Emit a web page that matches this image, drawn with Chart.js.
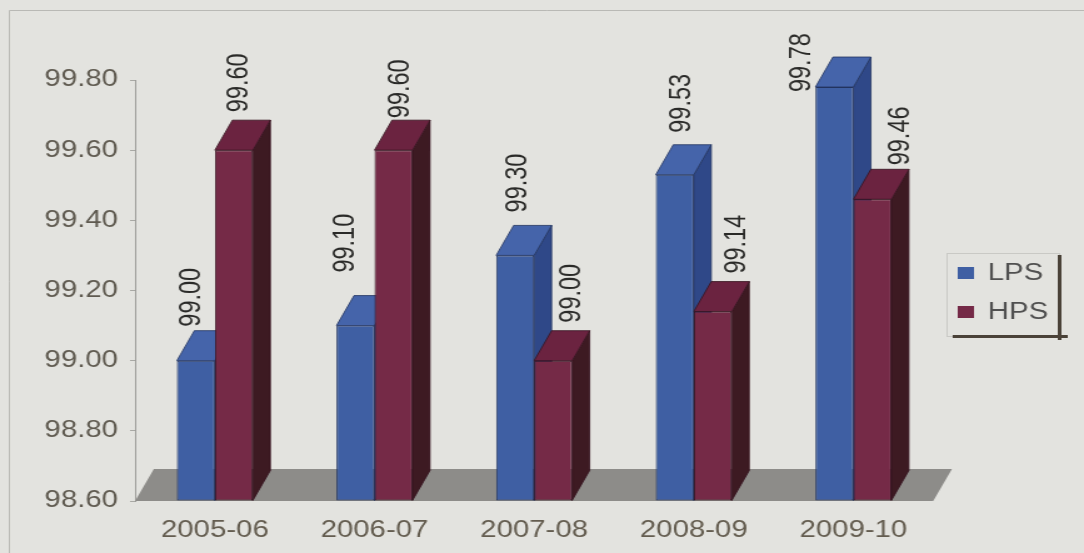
<!DOCTYPE html>
<html>
<head>
<meta charset="utf-8">
<title>LPS / HPS</title>
<script src="https://cdn.jsdelivr.net/npm/chart.js@4.4.1/dist/chart.umd.min.js"></script>
<style>
  html, body { margin: 0; padding: 0; background: #e3e3df; }
  canvas { display: block; }
</style>
</head>
<body>
<!-- drawn on a narrower canvas and widened by CSS, which gives the wide lettering -->
<canvas id="chart" width="867" height="553" style="width:1084px;height:553px"></canvas>
<script>
const years = ['2005-06', '2006-07', '2007-08', '2008-09', '2009-10'];
const lps = [99.00, 99.10, 99.30, 99.53, 99.78];
const hps = [99.60, 99.60, 99.00, 99.14, 99.46];
const yTicks = [98.60, 98.80, 99.00, 99.20, 99.40, 99.60, 99.80];

// value label nudges [dx, dy] from the bar's front top
const lpsLabelShift = [[-3, -34], [-8, -53], [3, -43], [6, -42], [-26, 5]];
const hpsLabelShift = [[4, -38], [6, -32], [15, -38], [19, -38], [23, -34]];

const FONT = '"Liberation Sans", Arial, sans-serif';
const DEPTH_X = 14, DEPTH_Y = -30;   // bar depth
const FLOOR_X = 15, FLOOR_Y = -32;   // floor depth

function quad(ctx, pts, fill, edge) {
    ctx.beginPath();
    ctx.moveTo(pts[0][0], pts[0][1]);
    for (let i = 1; i < pts.length; i++) ctx.lineTo(pts[i][0], pts[i][1]);
    ctx.closePath();
    ctx.fillStyle = fill;
    ctx.fill();
    if (edge) {
        ctx.lineWidth = 0.8;
        ctx.strokeStyle = edge;
        ctx.stroke();
    }
}

const box3d = {
    id: 'box3d',
    beforeDatasetsDraw(chart) {
        const { ctx, chartArea: a } = chart;
        ctx.save();
        // grey floor under the columns
        quad(ctx, [
            [a.left, a.bottom], [a.right, a.bottom],
            [a.right + FLOOR_X, a.bottom + FLOOR_Y], [a.left + FLOOR_X, a.bottom + FLOOR_Y]
        ], '#8d8c89');

        // side and top faces, left column first so the right one overlaps it
        years.forEach((_, i) => {
            chart.data.datasets.forEach((ds, d) => {
                const bar = chart.getDatasetMeta(d).data[i];
                const { x, y, base, width } = bar.getProps(['x', 'y', 'base', 'width'], true);
                const l = x - width / 2, r = x + width / 2;
                quad(ctx, [[r, base], [r + DEPTH_X, base + DEPTH_Y], [r + DEPTH_X, y + DEPTH_Y], [r, y]],
                    ds.sideColor, ds.borderColor);
                quad(ctx, [[l, y], [r, y], [r + DEPTH_X, y + DEPTH_Y], [l + DEPTH_X, y + DEPTH_Y]],
                    ds.topColor, ds.borderColor);
            });
        });
        ctx.restore();
    },
    afterDatasetsDraw(chart) {
        const { ctx } = chart;
        ctx.save();
        ctx.font = '23.5px ' + FONT;
        ctx.fillStyle = '#2a2a28';
        ctx.textAlign = 'left';
        ctx.textBaseline = 'middle';
        chart.data.datasets.forEach((ds, d) => {
            chart.getDatasetMeta(d).data.forEach((bar, i) => {
                const { x, y } = bar.getProps(['x', 'y'], true);
                const [dx, dy] = ds.labelShift[i];
                ctx.save();
                ctx.translate(x + dx, y + dy);
                ctx.rotate(-Math.PI / 2);
                ctx.fillText(ds.data[i].toFixed(2), 0, 0);
                ctx.restore();
            });
        });
        ctx.restore();
    },
    afterDraw(chart) {
        const { ctx } = chart;
        ctx.save();

        // outer frame
        ctx.strokeStyle = '#b9b9b5';
        ctx.lineWidth = 1;
        ctx.beginPath();
        ctx.moveTo(7.5, 553);
        ctx.lineTo(7.5, 10.5);
        ctx.lineTo(867, 10.5);
        ctx.stroke();

        // legend box with its dark shadow
        const lx = 757, ly = 253, lw = 90, lh = 83;
        ctx.strokeStyle = '#c9c9c5';
        ctx.strokeRect(lx + 0.5, ly + 0.5, lw, lh);
        ctx.fillStyle = '#4a4238';
        ctx.fillRect(lx + lw - 1, ly + 2, 3, lh + 2);
        ctx.fillRect(lx + 5, ly + lh - 1, lw + 2, 3);

        ctx.font = '23.5px ' + FONT;
        ctx.textAlign = 'left';
        ctx.textBaseline = 'middle';
        chart.data.datasets.forEach((ds, d) => {
            const cy = 273 + d * 39;
            ctx.fillStyle = ds.backgroundColor;
            ctx.fillRect(lx + 9, cy - 6, 13, 12);
            ctx.fillStyle = '#505050';
            ctx.fillText(ds.label, lx + 33, cy + 1);
        });
        ctx.restore();
    }
};

new Chart(document.getElementById('chart'), {
    type: 'bar',
    data: {
        labels: years,
        datasets: [
            {
                label: 'LPS',
                data: lps,
                base: yTicks[0],
                backgroundColor: '#3f5fa3',
                borderColor: '#22335f',
                borderWidth: 1,
                borderSkipped: false,
                topColor: '#4564aa',
                sideColor: '#2f4888',
                labelShift: lpsLabelShift,
                categoryPercentage: 0.476,
                barPercentage: 1.0
            },
            {
                label: 'HPS',
                data: hps,
                base: yTicks[0],
                backgroundColor: '#752a47',
                borderColor: '#36131f',
                borderWidth: 1,
                borderSkipped: false,
                topColor: '#6b2340',
                sideColor: '#3d1a22',
                labelShift: hpsLabelShift,
                categoryPercentage: 0.476,
                barPercentage: 1.0
            }
        ]
    },
    options: {
        responsive: false,
        animation: false,
        layout: { padding: { left: 0, top: 80, right: 120.6, bottom: 0 } },
        plugins: {
            legend: { display: false },
            tooltip: { enabled: false }
        },
        scales: {
            x: {
                grid: { display: false, drawTicks: false },
                border: { display: false },
                ticks: {
                    padding: 15,
                    color: '#645d50',
                    font: { family: FONT, size: 23.5 }
                },
                afterFit: (scale) => { scale.height = 52; }
            },
            y: {
                min: 98.6,
                max: 99.8,
                afterBuildTicks: (scale) => {
                    scale.ticks = yTicks.map(v => ({ value: v }));
                },
                grid: {
                    display: true,
                    drawOnChartArea: false,
                    drawTicks: true,
                    tickLength: 4,
                    color: '#a8a8a4'
                },
                border: { display: true, color: '#9c9c98', width: 1 },
                ticks: {
                    padding: 9.6,
                    color: '#5f5a50',
                    font: { family: FONT, size: 23.5 },
                    callback: (v) => Number(v).toFixed(2)
                },
                afterFit: (scale) => { scale.width = 108; }
            }
        }
    },
    plugins: [box3d]
});
</script>
</body>
</html>
